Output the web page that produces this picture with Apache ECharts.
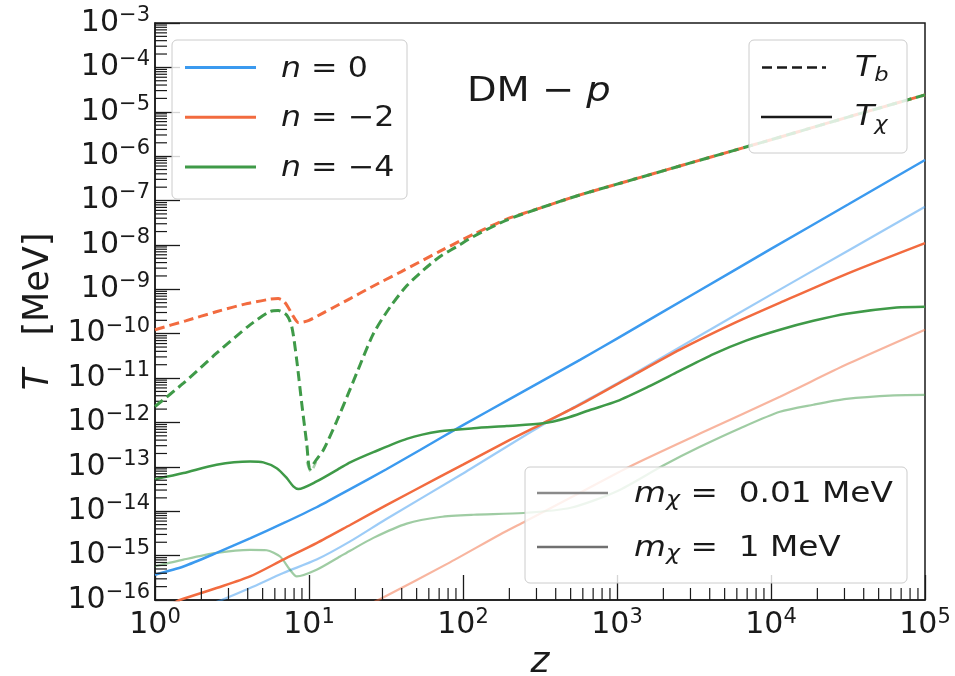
<!DOCTYPE html>
<html>
<head>
<meta charset="utf-8">
<script src="https://cdn.jsdelivr.net/npm/echarts@6/dist/echarts.min.js"></script>
<style>
  html, body { margin: 0; padding: 0; background: #ffffff; }
  #chart { width: 955px; height: 676px; }
</style>
</head>
<body>
<div id="chart"></div>
<script>
// ---- Temperatures T (MeV) versus redshift z, DM-proton scattering ----

// Baryon temperature T_b (dashed), n = -2 and n = -4 (m_chi = 1 MeV)
const zTbN2 = [1, 1.58, 2.53, 3.98, 5.58, 6.31, 6.76, 7.16, 7.59, 7.91, 8.53, 9.12, 10, 12.4, 14.4, 18.5, 25.1, 39.8, 71, 117, 192, 316, 575, 1000, 3162, 10000, 31623, 100000];
const tbN2  = [1.23e-10, 1.95e-10, 3.16e-10, 4.79e-10, 5.98e-10, 6.17e-10, 5.62e-10, 4.47e-10, 3.16e-10, 2.45e-10, 1.78e-10, 1.82e-10, 2.0e-10, 2.95e-10, 3.89e-10, 6.17e-10, 1.1e-9, 2.51e-9, 7.24e-9, 1.74e-8, 3.8e-8, 6.76e-8, 1.34e-7, 2.34e-7, 7.41e-7, 2.34e-6, 7.59e-6, 2.4e-5];

const zTbN4 = [1, 1.53, 2.51, 4.14, 5.58, 6.32, 7.16, 7.73, 8.32, 8.97, 9.66, 10.14, 10.96, 12.4, 15.1, 18.5, 20.4, 26.2, 33.6, 43.1, 55.2, 71, 91, 117, 192, 316, 575, 1000, 3162, 10000, 31623, 100000];
const tbN4  = [2.29e-12, 7.67e-12, 3.63e-11, 1.58e-10, 3.16e-10, 3.31e-10, 2.63e-10, 1.45e-10, 2.57e-11, 2.69e-12, 3.39e-13, 8.9e-14, 1.32e-13, 2.4e-13, 1.05e-12, 5.62e-12, 1.29e-11, 1.0e-10, 3.98e-10, 1.2e-9, 2.69e-9, 5.5e-9, 9.12e-9, 1.55e-8, 3.63e-8, 6.76e-8, 1.34e-7, 2.34e-7, 7.41e-7, 2.34e-6, 7.59e-6, 2.4e-5];

// T_b for n = -4 with m_chi = 0.01 MeV, where it separates from the 1 MeV curve
const zTbN4Light = [9.7, 10.3, 11.1];
const tbN4Light  = [1.3e-13, 7.8e-14, 1.3e-13];

// Dark-matter temperature T_chi (solid), m_chi = 1 MeV
const zChiN0 = [1, 1.53, 2.51, 4.14, 6.81, 11.2, 18.5, 31.6, 52.6, 100, 202, 575, 1000, 3162, 10000, 31623, 100000];
const chiN0  = [3.72e-16, 5.69e-16, 1.15e-15, 2.45e-15, 5.37e-15, 1.23e-14, 3.16e-14, 8.71e-14, 2.4e-13, 8.71e-13, 3.39e-12, 2.57e-11, 7.76e-11, 7.94e-10, 8.13e-9, 8.13e-8, 8.2e-7];

const zChiN2 = [1.26, 1.45, 2.51, 4.14, 6.81, 11.2, 18.5, 31.6, 71, 100, 200, 331, 575, 1213, 2564, 5623, 11482, 31623, 100000];
const chiN2  = [7.8e-17, 1e-16, 1.86e-16, 3.39e-16, 8.13e-16, 1.91e-15, 4.9e-15, 1.35e-14, 6.03e-14, 1.12e-13, 3.98e-13, 9.55e-13, 2.51e-12, 1.05e-11, 4.37e-11, 1.66e-10, 5.0e-10, 2.29e-9, 1.1e-8];

const zChiN4 = [1, 1.53, 2.51, 4.14, 5.05, 6.17, 7.16, 7.91, 8.53, 11.2, 15.9, 18.5, 26.2, 43.1, 71, 117, 192, 331, 471, 668, 1000, 1585, 2512, 4227, 6950, 11429, 18836, 30903, 65464, 100000];
const chiN4  = [5.25e-14, 7.24e-14, 1.12e-13, 1.32e-13, 1.26e-13, 9.33e-14, 5.62e-14, 3.63e-14, 3.16e-14, 4.68e-14, 9.33e-14, 1.26e-13, 2.14e-13, 4.27e-13, 6.31e-13, 7.41e-13, 8.32e-13, 9.55e-13, 1.26e-12, 1.91e-12, 3.02e-12, 6.31e-12, 1.41e-11, 3.47e-11, 7.08e-11, 1.23e-10, 1.95e-10, 2.82e-10, 3.89e-10, 4.07e-10];

// Dark-matter temperature T_chi (solid, faded), m_chi = 0.01 MeV
const zChiN0Light = [2.24, 2.71, 4.14, 6.81, 11.2, 18.5, 31.6, 100, 316, 1099, 3162, 10000, 31623, 100000];
const chiN0Light  = [7.9e-17, 1.0e-16, 1.86e-16, 4.07e-16, 8.13e-16, 2.09e-15, 6.6e-15, 7.08e-14, 8.13e-13, 9.12e-12, 7.59e-11, 7.59e-10, 7.41e-9, 7.24e-8];

const zChiN2Light = [25.1, 28.2, 79.4, 174, 253, 562, 1213, 3459, 11429, 31623, 100000];
const chiN2Light  = [8.3e-17, 1e-16, 6.6e-16, 3.0e-15, 5.89e-15, 2.5e-14, 1.02e-13, 5.62e-13, 3.8e-12, 2.09e-11, 1.23e-10];

const zChiN4Light = [1, 1.53, 2.51, 4.14, 5.31, 6.49, 7.53, 8.32, 11.2, 15.9, 18.5, 26.2, 43.1, 71, 117, 247, 501, 1000, 1995, 3459, 6310, 11429, 18836, 30903, 63096, 100000];
const chiN4Light  = [5.75e-16, 8.13e-16, 1.15e-15, 1.35e-15, 1.32e-15, 9.55e-16, 4.79e-16, 3.39e-16, 4.79e-16, 9.55e-16, 1.29e-15, 2.51e-15, 5.25e-15, 7.41e-15, 8.32e-15, 9.12e-15, 1.2e-14, 2.82e-14, 1.07e-13, 2.82e-13, 7.41e-13, 1.74e-12, 2.51e-12, 3.39e-12, 4.07e-12, 4.17e-12];

// Axis decades (exponents of 10) and log minor-tick multipliers
const xDecades = [0, 1, 2, 3, 4, 5];
const yDecades = [-16, -15, -14, -13, -12, -11, -10, -9, -8, -7, -6, -5, -4, -3];
const minorSteps = [2, 3, 4, 5, 6, 7, 8, 9];

// Legend texts
const nLabels = ['0', '−2', '−4'];
const massLabels = ['0.01 MeV', '1 MeV'];

// ---- Styling ----
const FONT = 'DejaVu Sans';
const INK = '#1a1a1a';
const C_BLUE = '#3b9aef';
const C_ORANGE = '#f26b3f';
const C_GREEN = '#3f9a48';
const GRID = { left: 155, top: 23, width: 770, height: 577 };

const pair = (xs, ys) => xs.map((x, i) => [x, ys[i]]);

function curve(name, xs, ys, color, o) {
  o = o || {};
  return {
    name: name,
    type: 'line',
    xAxisIndex: 0,
    yAxisIndex: 0,
    data: pair(xs, ys),
    showSymbol: false,
    symbol: 'none',
    smooth: 0.25,
    silent: true,
    z: o.z || 2,
    lineStyle: {
      color: color,
      width: o.width || 2.5,
      type: o.dash || 'solid',
      opacity: o.opacity == null ? 1 : o.opacity,
      cap: 'butt'
    }
  };
}

const tickLabelRich = {
  b: { fontFamily: FONT, fontSize: 30, color: INK, lineHeight: 36 },
  s: { fontFamily: FONT, fontSize: 21, color: INK, lineHeight: 22, verticalAlign: 'top' }
};
const expText = e => (e < 0 ? '−' : '') + Math.abs(e);

const chart = echarts.init(document.getElementById('chart'), null, { renderer: 'canvas' });

chart.setOption({
  animation: false,
  backgroundColor: '#ffffff',
  grid: Object.assign({
    show: true, borderColor: INK, borderWidth: 1.5, backgroundColor: 'transparent',
    containLabel: false, outerBoundsMode: 'none'
  }, GRID),
  xAxis: [{
    type: 'log',
    logBase: 10,
    min: Math.pow(10, xDecades[0]),
    max: Math.pow(10, xDecades[xDecades.length - 1]),
    splitNumber: xDecades.length - 1,
    position: 'bottom',
    axisLine: { show: true, lineStyle: { color: INK, width: 1.5 } },
    axisTick: { show: true, inside: true, length: 25, lineStyle: { color: INK, width: 1.3 } },
    splitLine: { show: false },
    minorTick: { show: false },
    axisLabel: {
      showMinLabel: true, showMaxLabel: true, margin: 7,
      formatter: v => '{b|10}{s|' + expText(Math.round(Math.log10(v))) + '}',
      rich: tickLabelRich
    },
    name: '{i|z}',
    nameLocation: 'middle',
    nameGap: 36,
    nameTextStyle: { rich: { i: { fontFamily: FONT, fontSize: 36, fontStyle: 'italic', color: INK } } }
  }],
  yAxis: [{
    // data axis: logarithmic temperature scale
    type: 'log',
    logBase: 10,
    min: Math.pow(10, yDecades[0]),
    max: Math.pow(10, yDecades[yDecades.length - 1]),
    position: 'right',
    show: false
  }, {
    // decade ruler drawn along the left edge (exponent of 10)
    type: 'value',
    min: yDecades[0],
    max: yDecades[yDecades.length - 1],
    interval: 1,
    position: 'left',
    axisLine: { show: true, onZero: false, lineStyle: { color: INK, width: 1.5 } },
    axisTick: { show: true, inside: true, length: 25, lineStyle: { color: INK, width: 1.3 } },
    splitLine: { show: false },
    axisLabel: {
      margin: 5,
      formatter: v => '{b|10}{s|' + expText(v) + '}',
      rich: tickLabelRich
    },
    name: '{i|T}{r|   [MeV]}',
    nameLocation: 'middle',
    nameRotate: 90,
    nameGap: 97,
    nameTextStyle: {
      rich: {
        i: { fontFamily: FONT, fontSize: 35, fontStyle: 'italic', color: INK },
        r: { fontFamily: FONT, fontSize: 35, color: INK }
      }
    }
  }],
  series: [
    curve('T_chi n=0 (0.01 MeV)', zChiN0Light, chiN0Light, C_BLUE, { opacity: 0.5, width: 2.2 }),
    curve('T_chi n=-2 (0.01 MeV)', zChiN2Light, chiN2Light, C_ORANGE, { opacity: 0.5, width: 2.2 }),
    curve('T_chi n=-4 (0.01 MeV)', zChiN4Light, chiN4Light, C_GREEN, { opacity: 0.5, width: 2.2 }),
    curve('T_chi n=0', zChiN0, chiN0, C_BLUE, { z: 3 }),
    curve('T_chi n=-2', zChiN2, chiN2, C_ORANGE, { z: 3 }),
    curve('T_chi n=-4', zChiN4, chiN4, C_GREEN, { z: 3 }),
    curve('T_b n=-4 (0.01 MeV)', zTbN4Light, tbN4Light, C_GREEN, { opacity: 0.45, width: 2.6, dash: [10, 5], z: 3 }),
    curve('T_b n=-2', zTbN2, tbN2, C_ORANGE, { width: 3, dash: [10, 5], z: 4 }),
    curve('T_b n=-4', zTbN4, tbN4, C_GREEN, { width: 3, dash: [10, 5], z: 5 })
  ]
});

// ---- Minor log ticks (2..9 x 10^k) placed through the axes' own scales ----
const graphics = [];
const xLeft = chart.convertToPixel({ xAxisIndex: 0 }, Math.pow(10, xDecades[0]));
const yBottom = chart.convertToPixel({ yAxisIndex: 0 }, Math.pow(10, yDecades[0]));
const tickStyle = { stroke: INK, lineWidth: 1.2 };

xDecades.slice(0, -1).forEach(k => {
  minorSteps.forEach(m => {
    const px = chart.convertToPixel({ xAxisIndex: 0 }, m * Math.pow(10, k));
    graphics.push({ type: 'line', silent: true, z: 5,
      shape: { x1: px, y1: yBottom, x2: px, y2: yBottom - 12 }, style: tickStyle });
  });
});
yDecades.slice(0, -1).forEach(k => {
  minorSteps.forEach(m => {
    const py = chart.convertToPixel({ yAxisIndex: 0 }, m * Math.pow(10, k));
    graphics.push({ type: 'line', silent: true, z: 5,
      shape: { x1: xLeft, y1: py, x2: xLeft + 12, y2: py }, style: tickStyle });
  });
});

// ---- Legend boxes and annotation ----
const boxStyle = { fill: 'rgba(255,255,255,0.82)', stroke: '#cccccc', lineWidth: 1 };
const STRETCH = 1.13;
function makeRich(size) {
  return {
    i: { fontFamily: FONT, fontSize: size, fontStyle: 'italic', fill: INK, lineHeight: 34 },
    r: { fontFamily: FONT, fontSize: size, fill: INK, lineHeight: 34 },
    sb: { fontFamily: FONT, fontSize: Math.round(size * 0.72), fontStyle: 'italic', fill: INK, lineHeight: 20, verticalAlign: 'bottom' }
  };
}
function label(x, y, text, size) {
  return { type: 'text', x: x, y: y, z: 61, silent: true, scaleX: STRETCH,
    style: { text: text, fill: INK, align: 'left', verticalAlign: 'middle',
             fontFamily: FONT, fontSize: size, rich: makeRich(size) } };
}

// n legend
graphics.push({ type: 'rect', z: 60, silent: true, shape: { x: 172, y: 40, width: 235, height: 159, r: 5 }, style: boxStyle });
[C_BLUE, C_ORANGE, C_GREEN].forEach((c, i) => {
  const y = 67.5 + i * 49.7;
  graphics.push({ type: 'line', z: 61, silent: true,
    shape: { x1: 185, y1: y, x2: 256, y2: y }, style: { stroke: c, lineWidth: 3 } });
  graphics.push(label(281, y + 2, '{i|n}{r| = ' + nLabels[i] + '}', 28));
});

// T_b / T_chi legend
graphics.push({ type: 'rect', z: 60, silent: true, shape: { x: 749, y: 40, width: 158, height: 113, r: 5 }, style: boxStyle });
graphics.push({ type: 'line', z: 61, silent: true, shape: { x1: 762, y1: 67.5, x2: 826, y2: 67.5 },
  style: { stroke: INK, lineWidth: 2.5, lineDash: [10, 5] } });
graphics.push({ type: 'line', z: 61, silent: true, shape: { x1: 761, y1: 117, x2: 832, y2: 117 },
  style: { stroke: INK, lineWidth: 2.5 } });
graphics.push(label(855, 69, '{i|T}{sb|b}', 28));
graphics.push(label(855, 118, '{i|T}{sb|χ}', 28));

// mass legend
graphics.push({ type: 'rect', z: 60, silent: true, shape: { x: 525, y: 467, width: 382, height: 116, r: 5 }, style: boxStyle });
['#8a8a8a', '#707070'].forEach((c, i) => {
  const y = 493 + i * 54;
  graphics.push({ type: 'line', z: 61, silent: true,
    shape: { x1: 537, y1: y, x2: 608, y2: y }, style: { stroke: c, lineWidth: 2.5 } });
  graphics.push(label(634, y + 1, '{i|m}{sb|χ}{r| =  ' + massLabels[i] + '}', 29));
});

// interaction annotation
graphics.push({ type: 'text', x: 467, y: 92, z: 61, silent: true, scaleX: STRETCH,
  style: { text: '{r|DM − }{i|p}', align: 'left', verticalAlign: 'middle', fill: INK,
    fontFamily: FONT, fontSize: 34,
    rich: {
      r: { fontFamily: FONT, fontSize: 34, fill: INK },
      i: { fontFamily: FONT, fontSize: 34, fontStyle: 'italic', fill: INK }
    } } });

chart.setOption({ graphic: { elements: graphics } });
</script>
</body>
</html>
